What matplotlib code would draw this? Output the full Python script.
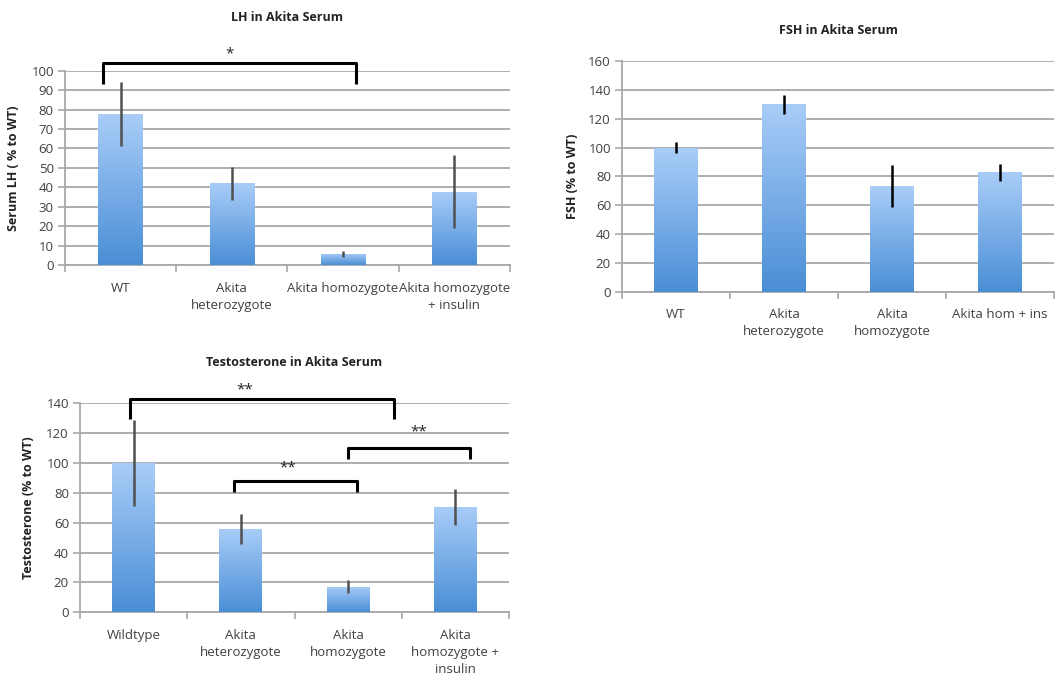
import numpy as np
import matplotlib
matplotlib.use("Agg")
import matplotlib.pyplot as plt
from matplotlib.colors import LinearSegmentedColormap

plt.rcParams['font.family'] = ['Open Sans', 'DejaVu Sans']

# data
lh_labels = ["WT", "Akita\nheterozygote", "Akita homozygote", "Akita homozygote\n+ insulin"]
lh_values = [77.5, 42, 5.7, 37.6]
lh_err = [16.5, 8.4, 1.5, 18.8]

fsh_labels = ["WT", "Akita\nheterozygote", "Akita\nhomozygote", "Akita hom + ins"]
fsh_values = [100, 130, 73.5, 82.8]
fsh_err = [4, 6.5, 14.5, 5.8]

testo_labels = ["Wildtype", "Akita\nheterozygote", "Akita\nhomozygote", "Akita\nhomozygote +\ninsulin"]
testo_values = [99.8, 55.8, 17.2, 70.7]
testo_err = [28.7, 9.8, 4.5, 12.0]

TEXT = "#404040"
GRID = "#a8a8a8"
grad_cmap = LinearSegmentedColormap.from_list("xl", ["#4a8ed6", "#a9cdf8"])


def gradient_bars(ax, values, err, ecolor, elw):
    x = np.arange(len(values))
    bars = ax.bar(x, values, width=0.4, color="none", edgecolor="none", zorder=3)
    grad = np.linspace(0, 1, 256).reshape(-1, 1)
    for b in bars:
        x0, y0 = b.get_x(), b.get_y()
        w, h = b.get_width(), b.get_height()
        im = ax.imshow(grad, cmap=grad_cmap, origin="lower", aspect="auto",
                       extent=[x0, x0 + w, y0, y0 + h], zorder=3)
        im.set_clip_path(b)
    ax.errorbar(x, values, yerr=err, fmt="none", ecolor=ecolor, elinewidth=elw,
                capsize=0, zorder=4)


def style_axes(ax, labels, ymax, ystep, title, ylabel, title_y, ylabel_x):
    n = len(labels)
    ax.set_xlim(-0.5, n - 0.5)
    ax.set_ylim(0, ymax)
    ax.set_yticks(np.arange(0, ymax + 1, ystep))
    ax.set_xticks(np.arange(n))
    ax.set_xticklabels(labels, color=TEXT, fontsize=9.5, linespacing=1.4)
    ax.set_xticks(np.arange(-0.5, n, 1.0), minor=True)
    ax.tick_params(axis="x", which="major", length=0, pad=12)
    ax.tick_params(axis="x", which="minor", length=5, color=GRID, width=1.2)
    ax.tick_params(axis="y", length=5, color=GRID, width=1.2, labelsize=9.5,
                   labelcolor=TEXT, pad=3)
    ax.grid(axis="y", color=GRID, linewidth=1.3, zorder=0)
    ax.set_axisbelow(True)
    for s in ["top", "right"]:
        ax.spines[s].set_visible(False)
    for s in ["left", "bottom"]:
        ax.spines[s].set_color(GRID)
        ax.spines[s].set_linewidth(1.3)
    ax.set_title(title, fontsize=9, fontweight="bold", color="#222222", y=title_y)
    ax.set_ylabel(ylabel, fontsize=9, fontweight="bold", color="#222222")
    ax.yaxis.set_label_coords(ylabel_x, 0.5)


def bracket(ax, x1, x2, y_top, y_leg, star, star_x, star_y):
    ax.plot([x1, x1, x2, x2], [y_leg, y_top, y_top, y_leg], color="black",
            linewidth=2.2, solid_joinstyle="round", solid_capstyle="butt",
            clip_on=False, zorder=5)
    ax.text(star_x, star_y, star, ha="center", va="center", fontsize=11,
            color="#222222", clip_on=False)


fig = plt.figure(figsize=(10.6, 6.81), dpi=100)

ax1 = fig.add_axes([0.0613, 0.6109, 0.4198, 0.2853])
gradient_bars(ax1, lh_values, lh_err, "#505050", 1.8)
style_axes(ax1, lh_labels, 100, 10, "LH in Akita Serum", "Serum LH ( % to WT)", 1.215, -0.10)
bracket(ax1, -0.16, 2.12, 103.8, 93.2, "*", 0.98, 108.5)

ax2 = fig.add_axes([0.5868, 0.5717, 0.4075, 0.3387])
gradient_bars(ax2, fsh_values, fsh_err, "black", 1.8)
style_axes(ax2, fsh_labels, 160, 20, "FSH in Akita Serum", "FSH (% to WT)", 1.08, -0.10)

ax3 = fig.add_axes([0.0755, 0.1009, 0.4047, 0.3069])
gradient_bars(ax3, testo_values, testo_err, "#505050", 1.8)
style_axes(ax3, testo_labels, 140, 20, "Testosterone in Akita Serum", "Testosterone (% to WT)", 1.14, -0.105)
bracket(ax3, -0.03, 2.43, 143, 129.3, "**", 1.04, 149)
bracket(ax3, 2.0, 3.14, 109.8, 102.7, "**", 2.66, 121)
bracket(ax3, 0.94, 2.08, 88, 80.8, "**", 1.44, 97)

fig.savefig("out.png", dpi=100, facecolor="white")
